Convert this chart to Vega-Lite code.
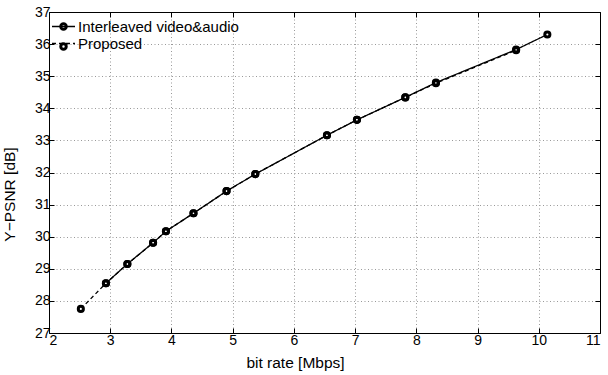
{
  "$schema": "https://vega.github.io/schema/vega-lite/v6.json",
  "width": 551,
  "height": 321,
  "autosize": {"type": "none"},
  "padding": {"left": 49, "top": 12, "right": 8, "bottom": 42},
  "background": "white",
  "config": {
    "view": {"stroke": null},
    "font": "Liberation Sans",
    "axis": {
      "labelFont": "Liberation Sans",
      "titleFont": "Liberation Sans",
      "labelColor": "black",
      "titleColor": "black",
      "labelFontSize": 14,
      "titleFontSize": 15.5,
      "titleFontWeight": "normal",
      "domainColor": "black",
      "domainWidth": 1,
      "tickColor": "black",
      "tickSize": -5,
      "tickWidth": 1,
      "gridColor": "#999999",
      "gridDash": [1, 2.5],
      "gridWidth": 1
    },
    "legend": {
      "labelFont": "Liberation Sans",
      "labelFontSize": 15,
      "labelColor": "black",
      "labelLimit": 400,
      "padding": 0,
      "rowPadding": 1
    }
  },
  "data": {
    "values": [
      {"series": "Proposed", "rate": 2.52, "psnr": 27.75},
      {"series": "Proposed", "rate": 2.93, "psnr": 28.55},
      {"series": "Proposed", "rate": 3.28, "psnr": 29.15},
      {"series": "Proposed", "rate": 3.70, "psnr": 29.81},
      {"series": "Proposed", "rate": 3.91, "psnr": 30.17},
      {"series": "Proposed", "rate": 4.36, "psnr": 30.73},
      {"series": "Proposed", "rate": 4.90, "psnr": 31.42},
      {"series": "Proposed", "rate": 5.37, "psnr": 31.95},
      {"series": "Proposed", "rate": 6.54, "psnr": 33.16},
      {"series": "Proposed", "rate": 7.03, "psnr": 33.64},
      {"series": "Proposed", "rate": 7.82, "psnr": 34.34},
      {"series": "Proposed", "rate": 8.32, "psnr": 34.78},
      {"series": "Proposed", "rate": 9.63, "psnr": 35.81},
      {"series": "Interleaved video&audio", "rate": 2.93, "psnr": 28.55},
      {"series": "Interleaved video&audio", "rate": 3.28, "psnr": 29.15},
      {"series": "Interleaved video&audio", "rate": 3.70, "psnr": 29.81},
      {"series": "Interleaved video&audio", "rate": 3.91, "psnr": 30.17},
      {"series": "Interleaved video&audio", "rate": 4.36, "psnr": 30.73},
      {"series": "Interleaved video&audio", "rate": 4.90, "psnr": 31.42},
      {"series": "Interleaved video&audio", "rate": 5.37, "psnr": 31.95},
      {"series": "Interleaved video&audio", "rate": 6.54, "psnr": 33.16},
      {"series": "Interleaved video&audio", "rate": 7.03, "psnr": 33.64},
      {"series": "Interleaved video&audio", "rate": 7.82, "psnr": 34.34},
      {"series": "Interleaved video&audio", "rate": 8.32, "psnr": 34.80},
      {"series": "Interleaved video&audio", "rate": 9.63, "psnr": 35.83},
      {"series": "Interleaved video&audio", "rate": 10.14, "psnr": 36.30}
    ]
  },
  "layer": [
    {
      "mark": {"type": "line", "strokeWidth": 1.3, "color": "black"},
      "encoding": {
        "x": {
          "field": "rate",
          "type": "quantitative",
          "scale": {"domain": [2, 11], "nice": false, "zero": false},
          "axis": {
            "orient": "bottom",
            "values": [2, 3, 4, 5, 6, 7, 8, 9, 10, 11],
            "title": "bit rate [Mbps]",
            "grid": true,
            "labelPadding": 5,
            "titleX": 246,
            "titleY": 34.5,
            "titleBaseline": "alphabetic",
            "titleAlign": "center"
          }
        },
        "y": {
          "field": "psnr",
          "type": "quantitative",
          "scale": {"domain": [27, 37], "nice": false, "zero": false},
          "axis": {
            "orient": "left",
            "values": [27, 28, 29, 30, 31, 32, 33, 34, 35, 36, 37],
            "title": "Y−PSNR [dB]",
            "grid": true,
            "labelPadding": 4,
            "titleX": -34.5,
            "titleY": 182,
            "titleAngle": -90,
            "titleBaseline": "alphabetic",
            "titleAlign": "center"
          }
        },
        "strokeDash": {
          "field": "series",
          "type": "nominal",
          "scale": {
            "domain": ["Interleaved video&audio", "Proposed"],
            "range": [[1, 0], [4, 3]]
          },
          "legend": {
            "orient": "none",
            "legendX": 7,
            "legendY": 7,
            "title": null,
            "symbolType": "M-1.77,0L1.77,0",
            "symbolSize": 169,
            "symbolStrokeWidth": 1.3,
            "symbolStrokeColor": "black",
            "labelOffset": 7
          }
        }
      }
    },
    {
      "mark": {"type": "point", "filled": true, "color": "white", "size": 26, "strokeWidth": 0, "opacity": 1},
      "encoding": {
        "x": {"field": "rate", "type": "quantitative", "axis": null},
        "y": {"field": "psnr", "type": "quantitative", "axis": null}
      }
    },
    {
      "mark": {"type": "point", "filled": false, "color": "black", "size": 26, "strokeWidth": 3, "opacity": 1},
      "encoding": {
        "x": {
          "field": "rate",
          "type": "quantitative",
          "axis": {
            "orient": "top",
            "values": [2, 3, 4, 5, 6, 7, 8, 9, 10, 11],
            "labels": false,
            "grid": false,
            "title": null
          }
        },
        "y": {
          "field": "psnr",
          "type": "quantitative",
          "axis": {
            "orient": "right",
            "values": [27, 28, 29, 30, 31, 32, 33, 34, 35, 36, 37],
            "labels": false,
            "grid": false,
            "title": null
          }
        },
        "shape": {
          "field": "series",
          "type": "nominal",
          "scale": {
            "domain": ["Interleaved video&audio", "Proposed"],
            "range": ["circle", "circle"]
          },
          "legend": {
            "orient": "top-left",
            "offset": 7,
            "title": null,
            "symbolSize": 30,
            "symbolStrokeWidth": 3,
            "symbolStrokeColor": "black",
            "symbolFillColor": "white",
            "labelOpacity": 0
          }
        }
      }
    }
  ],
  "resolve": {"axis": {"x": "independent", "y": "independent"}}
}
